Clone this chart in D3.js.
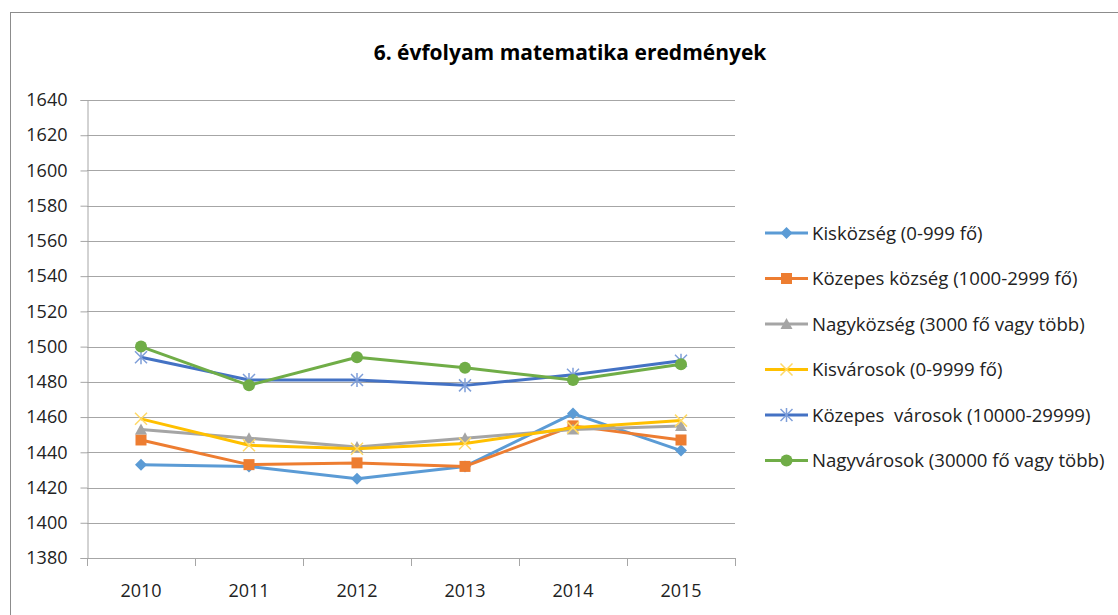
<!DOCTYPE html>
<html>
<head>
<meta charset="utf-8">
<script src="https://cdn.jsdelivr.net/npm/d3@7"></script>
<style>
  body { margin: 0; background: #fff; }
  svg { display: block; font-family: "Open Sans", sans-serif; }
  text { white-space: pre; }
</style>
</head>
<body>
<svg id="chart" width="1118" height="615"></svg>
<script>
const years = ['2010', '2011', '2012', '2013', '2014', '2015'];
const yTicks = [1380, 1400, 1420, 1440, 1460, 1480, 1500, 1520, 1540, 1560, 1580, 1600, 1620, 1640];

const kiskozseg = [1433, 1432, 1425, 1432, 1462, 1441];
const kozepesKozseg = [1447, 1433, 1434, 1432, 1455, 1447];
const nagykozseg = [1453, 1448, 1443, 1448, 1453, 1455];
const kisvarosok = [1459, 1444, 1442, 1445, 1454, 1458];
const kozepesVarosok = [1494, 1481, 1481, 1478, 1484, 1492];
const nagyvarosok = [1500, 1478, 1494, 1488, 1481, 1490];

const series = [
  { name: 'Kisközség (0-999 fő)', values: kiskozseg, color: '#5b9bd5', marker: 'diamond' },
  { name: 'Közepes község (1000-2999 fő)', values: kozepesKozseg, color: '#ed7d31', marker: 'square' },
  { name: 'Nagyközség (3000 fő vagy több)', values: nagykozseg, color: '#a5a5a5', marker: 'triangle' },
  { name: 'Kisvárosok (0-9999 fő)', values: kisvarosok, color: '#ffc000', marker: 'x' },
  { name: 'Közepes  városok (10000-29999)', values: kozepesVarosok, color: '#4472c4', marker: 'star' },
  { name: 'Nagyvárosok (30000 fő vagy több)', values: nagyvarosok, color: '#70ad47', marker: 'circle' }
];

const svg = d3.select('#chart');

// outer chart border
svg.append('rect')
  .attr('x', 10.5).attr('y', 12.5)
  .attr('width', 1200).attr('height', 700)
  .attr('fill', '#fff').attr('stroke', '#8c8c8c').attr('stroke-width', 1);

svg.append('text')
  .attr('x', 570).attr('y', 60)
  .attr('text-anchor', 'middle')
  .attr('font-size', 21).attr('font-weight', 'bold')
  .attr('fill', '#000')
  .text('6. évfolyam matematika eredmények');

const plotLeft = 87, plotRight = 735, plotTop = 100, plotBottom = 558;

const x = d3.scaleBand().domain(years).range([plotLeft, plotRight]);
const y = d3.scaleLinear().domain([1380, 1640]).range([plotBottom, plotTop]);

// gridlines
svg.append('g')
  .selectAll('line')
  .data(yTicks)
  .join('line')
  .attr('x1', plotLeft).attr('x2', plotRight)
  .attr('y1', d => Math.round(y(d)) + 0.5).attr('y2', d => Math.round(y(d)) + 0.5)
  .attr('stroke', '#a6a6a6');

// y axis
const yAxis = svg.append('g')
  .attr('transform', `translate(${plotLeft + 0.5},0)`)
  .call(d3.axisLeft(y).tickValues(yTicks).tickSize(7).tickPadding(13).tickFormat(d3.format('d')));
yAxis.select('.domain').attr('stroke', '#a6a6a6');
yAxis.selectAll('.tick line').attr('stroke', '#a6a6a6');
yAxis.selectAll('.tick text').attr('font-size', 18).attr('fill', '#222').attr('font-family', '"Open Sans", sans-serif');

// x axis, ticks between categories
const xAxis = svg.append('g')
  .attr('transform', `translate(0,${Math.round(plotBottom) + 0.5})`)
  .call(d3.axisBottom(x).tickSize(0).tickPadding(26));
xAxis.select('.domain').remove();
xAxis.selectAll('.tick text').attr('font-size', 18).attr('fill', '#222').attr('font-family', '"Open Sans", sans-serif');
svg.append('line')
  .attr('x1', plotLeft).attr('x2', plotRight)
  .attr('y1', Math.round(plotBottom) + 0.5).attr('y2', Math.round(plotBottom) + 0.5)
  .attr('stroke', '#a6a6a6');
svg.append('g')
  .selectAll('line')
  .data(years.map(d => x(d)).concat([plotRight]))
  .join('line')
  .attr('x1', d => Math.round(d) + 0.5).attr('x2', d => Math.round(d) + 0.5)
  .attr('y1', plotBottom).attr('y2', plotBottom + 8)
  .attr('stroke', '#a6a6a6');

const cx = d => x(d) + x.bandwidth() / 2;

function drawMarker(g, type, color, px, py) {
  if (type === 'diamond') {
    g.append('path').attr('d', `M${px},${py - 6}L${px + 6},${py}L${px},${py + 6}L${px - 6},${py}Z`).attr('fill', color);
  } else if (type === 'square') {
    g.append('rect').attr('x', px - 5.5).attr('y', py - 5.5).attr('width', 11).attr('height', 11).attr('fill', color);
  } else if (type === 'triangle') {
    g.append('path').attr('d', `M${px},${py - 6}L${px + 6},${py + 5}L${px - 6},${py + 5}Z`).attr('fill', color);
  } else if (type === 'x') {
    g.append('path').attr('d', `M${px - 6},${py - 6}L${px + 6},${py + 6}M${px + 6},${py - 6}L${px - 6},${py + 6}`)
      .attr('stroke', '#ffd966').attr('stroke-width', 1.5);
  } else if (type === 'star') {
    g.append('path').attr('d', `M${px - 6},${py - 6}L${px + 6},${py + 6}M${px + 6},${py - 6}L${px - 6},${py + 6}M${px},${py - 7}L${px},${py + 7}`)
      .attr('stroke', '#7f9fd9').attr('stroke-width', 1.5);
  } else {
    g.append('circle').attr('cx', px).attr('cy', py).attr('r', 6).attr('fill', color);
  }
}

const line = d3.line().x(d => cx(d[0])).y(d => y(d[1]));

series.forEach(s => {
  const pts = years.map((yr, i) => [yr, s.values[i]]);
  const g = svg.append('g');
  g.append('path')
    .attr('d', line(pts))
    .attr('fill', 'none')
    .attr('stroke', s.color)
    .attr('stroke-width', 3)
    .attr('stroke-linejoin', 'round');
  pts.forEach(p => drawMarker(g, s.marker, s.color, cx(p[0]), y(p[1])));
});

// legend
const legend = svg.append('g');
series.forEach((s, i) => {
  const ly = 233 + i * 45.5;
  const g = legend.append('g');
  g.append('line').attr('x1', 765).attr('x2', 808).attr('y1', ly).attr('y2', ly)
    .attr('stroke', s.color).attr('stroke-width', 3);
  drawMarker(g, s.marker, s.color, 786.5, ly);
  g.append('text').attr('x', 812).attr('y', ly).attr('dy', '0.35em')
    .attr('font-size', 18.6).attr('fill', '#222')
    .text(s.name);
});
</script>
</body>
</html>
